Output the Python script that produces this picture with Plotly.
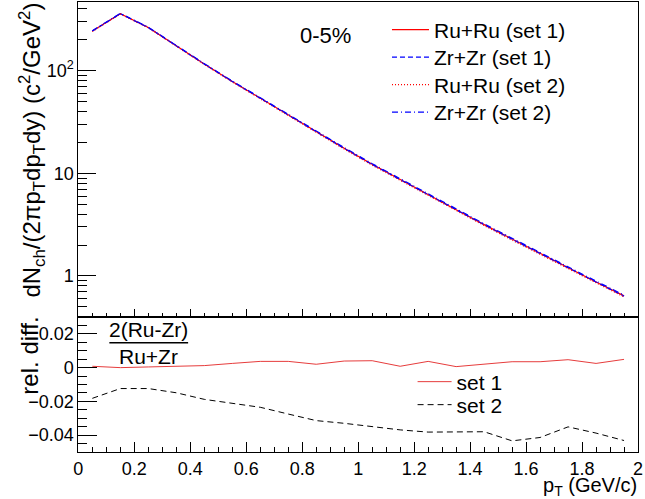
import plotly.graph_objects as go

# ---------------- data ----------------
pt = [0.05, 0.15, 0.25, 0.35, 0.45, 0.55, 0.65, 0.75, 0.85, 0.95,
      1.05, 1.15, 1.25, 1.35, 1.45, 1.55, 1.65, 1.75, 1.85, 1.95]

# average charged-hadron spectrum (c^2/GeV^2)
spectrum = [243, 359, 263, 174, 116, 78.5, 53.7, 36.7, 25.3, 17.5,
            12.2, 8.67, 6.17, 4.41, 3.16, 2.28, 1.65, 1.20, 0.873, 0.638]

# relative difference 2(Ru-Zr)/(Ru+Zr)
reldiff_set1 = [0.0008, 0.0000, 0.0004, 0.0008, 0.0012, 0.0025, 0.0037, 0.0037, 0.0020, 0.0039,
                0.0041, 0.0008, 0.0037, 0.0006, 0.0019, 0.0035, 0.0035, 0.0047, 0.0025, 0.0049]
reldiff_set2 = [-0.0182, -0.0124, -0.0124, -0.0149, -0.0188, -0.0212, -0.0235, -0.0275, -0.0314, -0.0330,
                -0.0351, -0.0369, -0.0382, -0.0380, -0.0380, -0.0434, -0.0414, -0.0351, -0.0388, -0.0432]

ru_set1 = [s * (1 + d / 2) for s, d in zip(spectrum, reldiff_set1)]
zr_set1 = [s * (1 - d / 2) for s, d in zip(spectrum, reldiff_set1)]
ru_set2 = [s * (1 + d / 2) for s, d in zip(spectrum, reldiff_set2)]
zr_set2 = [s * (1 - d / 2) for s, d in zip(spectrum, reldiff_set2)]

x_ticks = [0, 0.2, 0.4, 0.6, 0.8, 1.0, 1.2, 1.4, 1.6, 1.8, 2.0]
x_ticklabels = ["0", "0.2", "0.4", "0.6", "0.8", "1", "1.2", "1.4", "1.6", "1.8", "2"]
top_yticks = [1, 10, 100]
top_yticklabels = ["1", "10", "10<sup>2</sup>"]
bot_yticks = [-0.04, -0.02, 0, 0.02]
bot_yticklabels = ["\u22120.04", "\u22120.02", "0", "0.02"]

# ---------------- geometry helpers ----------------
W, H = 645, 499
def px(x):
    return x / W
def py(y):
    return 1 - y / H

FONT = "Liberation Sans, Arial, Helvetica, sans-serif"
TXT = 21

fig = go.Figure()

top_series = [
    ("Ru+Ru (set 1)", ru_set1, dict(color="rgb(255,0,0)", width=1.2), "legend", 30),
    ("Zr+Zr (set 1)", zr_set1, dict(color="rgb(0,0,255)", width=1.2, dash="5px,3px"), "legend2", 57.5),
    ("Ru+Ru (set 2)", ru_set2, dict(color="rgb(255,0,0)", width=1.2, dash="1px,2px"), "legend3", 85),
    ("Zr+Zr (set 2)", zr_set2, dict(color="rgb(0,0,255)", width=1.2, dash="6px,3px,1px,3px"), "legend4", 112.5),
]
for name, vals, line, leg, _ in top_series:
    fig.add_trace(go.Scatter(x=pt, y=vals, mode="lines", name=name, line=line,
                             xaxis="x", yaxis="y", legend=leg))

bot_series = [
    ("set 1", reldiff_set1, dict(color="rgb(230,60,60)", width=1), "legend5", 382),
    ("set 2", reldiff_set2, dict(color="black", width=1, dash="6px,4px"), "legend6", 405),
]
for name, vals, line, leg, _ in bot_series:
    fig.add_trace(go.Scatter(x=pt, y=vals, mode="lines", name=name, line=line,
                             xaxis="x2", yaxis="y2", legend=leg))

xdom = [px(74.5), px(643)]
ytop_dom = [py(317), py(2)]
ybot_dom = [py(452), py(317)]

common = dict(showline=True, linecolor="black", linewidth=1, mirror=True,
              showgrid=False, zeroline=False, ticks="inside", tickcolor="black")

layout = dict(
    width=W, height=H,
    margin=dict(l=0, r=0, t=0, b=0),
    paper_bgcolor="white", plot_bgcolor="white",
    font=dict(family=FONT, size=18, color="black"),
    showlegend=True,
    xaxis=dict(domain=xdom, anchor="y", range=[0, 2], tickvals=x_ticks, showticklabels=False,
               ticklen=8, minor=dict(dtick=0.05, ticklen=4, ticks="inside", tickcolor="black"), **common),
    yaxis=dict(domain=ytop_dom, anchor="x", type="log", range=[-0.4, 2.669],
               tickvals=top_yticks, ticktext=top_yticklabels, ticklen=18,
               minor=dict(dtick="D1", ticklen=9, ticks="inside", tickcolor="black"), **common),
    xaxis2=dict(domain=xdom, anchor="y2", range=[0, 2], tickvals=x_ticks, ticktext=x_ticklabels,
                ticklabeloverflow="allow",
                ticklen=10, minor=dict(dtick=0.05, ticklen=5, ticks="inside", tickcolor="black"), **common),
    yaxis2=dict(domain=ybot_dom, anchor="x2", range=[-0.05, 0.03],
                tickvals=bot_yticks, ticktext=bot_yticklabels, ticklen=19,
                minor=dict(dtick=0.005, tick0=0, ticklen=9, ticks="inside", tickcolor="black"), **common),
)
for name, vals, line, leg, yc in top_series:
    layout[leg] = dict(x=px(388), y=py(yc), xanchor="left", yanchor="middle",
                       bgcolor="rgba(0,0,0,0)", itemwidth=37,
                       font=dict(family=FONT, size=TXT))
for name, vals, line, leg, yc in bot_series:
    layout[leg] = dict(x=px(414), y=py(yc), xanchor="left", yanchor="middle",
                       bgcolor="rgba(0,0,0,0)", itemwidth=34,
                       font=dict(family=FONT, size=TXT))
fig.update_layout(**layout)

annotations = [
    dict(text="dN<sub>ch</sub>/(2πp<sub>T</sub>dp<sub>T</sub>dy) (c<sup>2</sup>/GeV<sup>2</sup>)",
         x=px(27), y=py(150), xref="paper", yref="paper", textangle=-90,
         xanchor="center", yanchor="middle", showarrow=False, font=dict(size=24)),
    dict(text="rel. diff.", x=px(24), y=py(356), xref="paper", yref="paper", textangle=-90,
         xanchor="center", yanchor="middle", showarrow=False, font=dict(size=24)),
    dict(text="0-5%", x=px(326), y=py(36), xref="paper", yref="paper",
         xanchor="center", yanchor="middle", showarrow=False, font=dict(size=22)),
    dict(text="2(Ru-Zr)", x=px(146), y=py(329), xref="paper", yref="paper",
         xanchor="center", yanchor="middle", showarrow=False, font=dict(size=TXT)),
    dict(text="Ru+Zr", x=px(146), y=py(356.5), xref="paper", yref="paper",
         xanchor="center", yanchor="middle", showarrow=False, font=dict(size=TXT)),
    dict(text="p<sub>T</sub> (GeV/c)", x=px(644), y=py(486.5), xref="paper", yref="paper",
         xanchor="right", yanchor="middle", showarrow=False, font=dict(size=20)),
]
fig.update_layout(annotations=annotations)

fig.add_shape(type="line", xref="paper", yref="paper",
              x0=px(106), x1=px(186), y0=py(342.7), y1=py(342.7),
              line=dict(color="black", width=1.5))

fig.write_html("out.html")
